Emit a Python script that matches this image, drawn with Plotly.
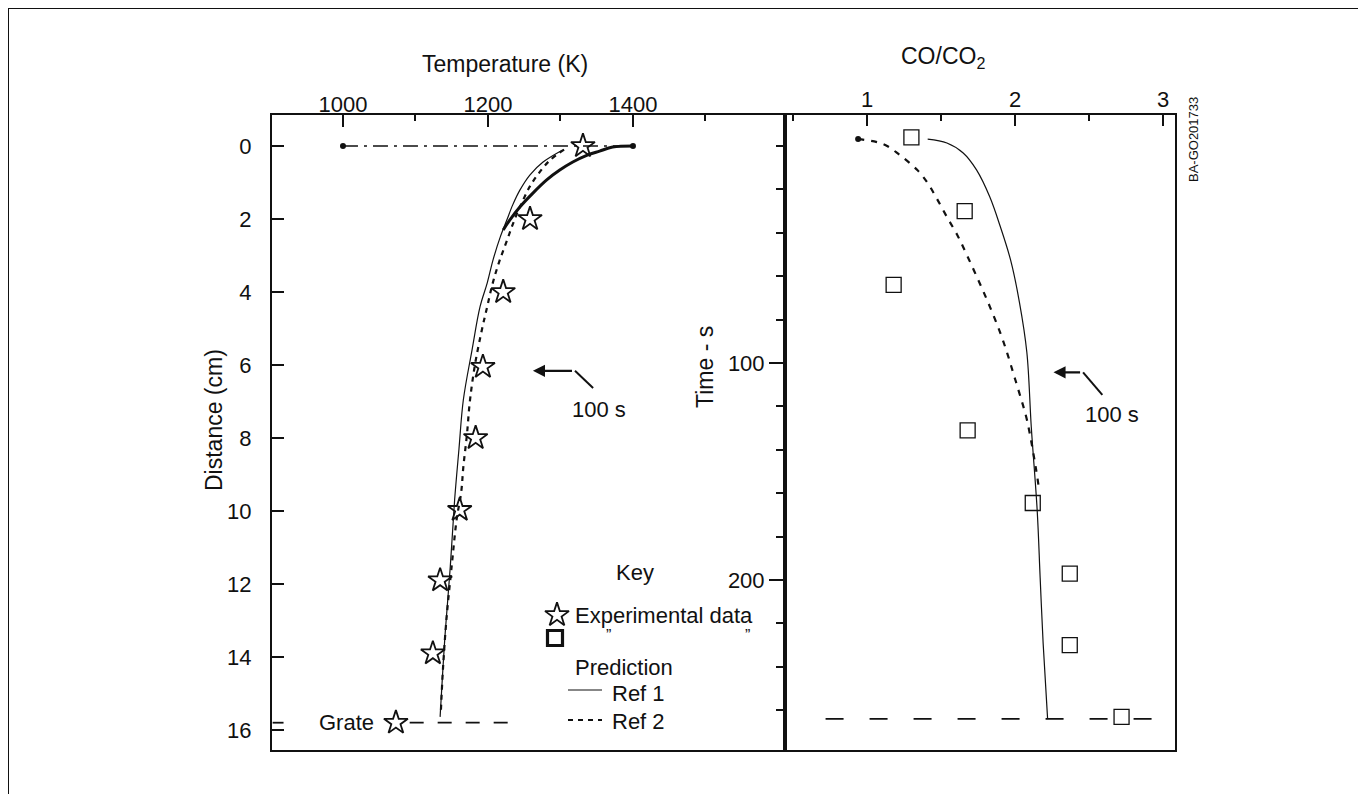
import plotly.graph_objects as go

# ---------------- data ----------------
# Left panel: temperature (K) vs distance (cm)
star_T = [1331, 1258, 1221, 1193, 1183, 1161, 1134, 1124, 1073]
star_d = [0.0, 2.0, 4.0, 6.05, 8.0, 9.97, 11.9, 13.9, 15.8]

ref1_T = [1303, 1276, 1258, 1244, 1234, 1226, 1217, 1207, 1199, 1189, 1178, 1166, 1160, 1154, 1148, 1141, 1134]
ref1_d = [0.11, 0.44, 0.79, 1.21, 1.62, 2.03, 2.49, 3.12, 3.75, 4.41, 5.59, 6.96, 8.3, 9.70, 11.53, 13.34, 15.64]

ref2_T = [1305, 1285, 1270, 1258, 1248, 1237, 1226, 1215, 1206, 1199, 1192, 1182, 1175, 1171, 1166, 1163, 1157, 1150, 1143, 1138, 1135]
ref2_d = [0.1, 0.4, 0.75, 1.1, 1.5, 2.0, 2.6, 3.2, 3.8, 4.4, 5.0, 6.0, 7.0, 7.9, 8.8, 9.5, 10.2, 11.5, 12.9, 14.3, 15.5]

thick_T = [1400, 1372, 1354, 1337, 1317, 1299, 1281, 1262, 1244, 1230, 1221]
thick_d = [0, 0.03, 0.14, 0.25, 0.44, 0.66, 0.93, 1.29, 1.67, 2.03, 2.30]

init_T = [1000, 1400]
init_d = [0, 0]

grate_d = 15.8
grate_T_left = [903, 918]
grate_T_right = [1092, 1240]

# Right panel: CO/CO2 vs time (s)
sq_r = [1.30, 1.66, 1.18, 1.68, 2.12, 2.37, 2.37, 2.72]
sq_t = [-4, 30, 64, 131, 164.5, 197, 230, 263]

r1_r = [1.41, 1.54, 1.65, 1.74, 1.83, 1.90, 1.97, 2.03, 2.08, 2.11, 2.15, 2.17, 2.19, 2.22]
r1_t = [-3.2, -1.4, 3.2, 11, 23.5, 37, 52.5, 72, 95, 129.5, 168, 199, 229, 263.6]

r2_r = [0.94, 1.11, 1.22, 1.34, 1.41, 1.47, 1.54, 1.61, 1.68, 1.76, 1.83, 1.90, 1.95, 1.99, 2.03, 2.08, 2.14, 2.16]
r2_t = [-3.2, -0.9, 4.1, 11.1, 17.1, 24, 32.7, 41, 51, 63, 74, 86, 96, 105, 114, 126, 148, 157]

grate_t = 264
grate_r = [0.72, 3.0]

temp_ticks = [1000, 1200, 1400]
temp_minor = [1100, 1300, 1500]
dist_ticks = [0, 2, 4, 6, 8, 10, 12, 14, 16]
ratio_ticks = [1, 2, 3]
ratio_minor = [0.5, 1.5, 2.5]
time_ticks = [100, 200]
time_minor = [0, 20, 40, 60, 80, 120, 140, 160, 180, 220, 240, 260]

# ---------------- layout helpers ----------------
W, H = 1366, 794
OFF = 8  # page body margin
def px(x):
    return (x - OFF) / W
def py(y):
    return 1 - (y - OFF) / H

FONT = "Liberation Sans, Arial, Helvetica, sans-serif"
BLACK = "#111111"

fig = go.Figure()

# left panel traces
fig.add_trace(go.Scatter(x=init_T, y=init_d, mode="lines+markers",
                         line=dict(color=BLACK, width=1.6, dash="longdashdot"),
                         marker=dict(size=6, color=BLACK), xaxis="x", yaxis="y"))
fig.add_trace(go.Scatter(x=thick_T, y=thick_d, mode="lines", line_shape="spline",
                         line=dict(color=BLACK, width=3), xaxis="x", yaxis="y"))
fig.add_trace(go.Scatter(x=ref1_T, y=ref1_d, mode="lines", line_shape="spline",
                         line=dict(color=BLACK, width=1.2), xaxis="x", yaxis="y"))
fig.add_trace(go.Scatter(x=ref2_T, y=ref2_d, mode="lines", line_shape="spline",
                         line=dict(color=BLACK, width=2.2, dash="5px,5px"), xaxis="x", yaxis="y"))
fig.add_trace(go.Scatter(x=grate_T_left, y=[grate_d] * 2, mode="lines",
                         line=dict(color=BLACK, width=1.8), xaxis="x", yaxis="y"))
fig.add_trace(go.Scatter(x=grate_T_right, y=[grate_d] * 2, mode="lines",
                         line=dict(color=BLACK, width=1.8, dash="14px,14px"), xaxis="x", yaxis="y"))
fig.add_trace(go.Scatter(x=star_T, y=star_d, mode="markers",
                         marker=dict(symbol="star-open", size=18, color=BLACK, line=dict(width=1.8, color=BLACK)),
                         xaxis="x", yaxis="y"))

# right panel traces
fig.add_trace(go.Scatter(x=r1_r, y=r1_t, mode="lines", line_shape="spline",
                         line=dict(color=BLACK, width=1.2), xaxis="x2", yaxis="y2"))
fig.add_trace(go.Scatter(x=r2_r, y=r2_t, mode="lines", line_shape="spline",
                         line=dict(color=BLACK, width=2.2, dash="6px,7px"), xaxis="x2", yaxis="y2"))
fig.add_trace(go.Scatter(x=r2_r[:1], y=r2_t[:1], mode="markers",
                         marker=dict(size=6, color=BLACK), xaxis="x2", yaxis="y2"))
fig.add_trace(go.Scatter(x=grate_r, y=[grate_t] * 2, mode="lines",
                         line=dict(color=BLACK, width=1.8, dash="18px,26px"), xaxis="x2", yaxis="y2"))
fig.add_trace(go.Scatter(x=sq_r, y=sq_t, mode="markers",
                         marker=dict(symbol="square-open", size=15, color=BLACK, line=dict(width=1.3, color=BLACK)),
                         xaxis="x2", yaxis="y2"))

# key symbols on a pixel overlay (reference pixel coordinates)
fig.add_trace(go.Scatter(x=[557], y=[615], mode="markers",
                         marker=dict(symbol="star-open", size=18, color=BLACK, line=dict(width=1.8, color=BLACK)),
                         xaxis="x3", yaxis="y3"))
fig.add_trace(go.Scatter(x=[555], y=[638], mode="markers",
                         marker=dict(symbol="square-open", size=15, color=BLACK, line=dict(width=3.2, color=BLACK)),
                         xaxis="x3", yaxis="y3"))
fig.add_trace(go.Scatter(x=[568, 602], y=[690, 690], mode="lines",
                         line=dict(color=BLACK, width=1.2), xaxis="x3", yaxis="y3"))
fig.add_trace(go.Scatter(x=[568, 602], y=[720, 720], mode="lines",
                         line=dict(color=BLACK, width=1.8, dash="5px,5px"), xaxis="x3", yaxis="y3"))

tickfont = dict(family=FONT, size=22, color=BLACK)
ydom = [py(750), py(115)]

fig.update_layout(
    width=W, height=H,
    margin=dict(l=0, r=0, t=0, b=0),
    paper_bgcolor="white", plot_bgcolor="rgba(0,0,0,0)",
    showlegend=False,
    font=dict(family=FONT, color=BLACK),
    xaxis=dict(domain=[px(272), px(785)], range=[902.1, 1609.7], side="top", anchor="y",
               tickmode="array", tickvals=temp_ticks, ticks="inside", ticklen=12, tickwidth=2,
               tickcolor=BLACK, tickfont=tickfont, ticklabelstandoff=-8,
               minor=dict(tickmode="array", tickvals=temp_minor, ticks="inside", ticklen=6,
                          tickwidth=2, tickcolor=BLACK),
               showline=True, linecolor=BLACK, linewidth=2, mirror=True,
               showgrid=False, zeroline=False),
    yaxis=dict(domain=ydom, range=[16.548, -0.849], anchor="x",
               tickmode="array", tickvals=dist_ticks, ticks="inside", ticklen=12, tickwidth=2,
               tickcolor=BLACK, tickfont=tickfont, ticklabelstandoff=14,
               showline=True, linecolor=BLACK, linewidth=2, mirror=True,
               showgrid=False, zeroline=False),
    xaxis2=dict(domain=[px(785), px(1175)], range=[0.4459, 3.0811], side="top", anchor="y2",
                tickmode="array", tickvals=ratio_ticks, ticks="inside", ticklen=11, tickwidth=2,
                tickcolor=BLACK, tickfont=tickfont, ticklabelstandoff=-3,
                minor=dict(tickmode="array", tickvals=ratio_minor, ticks="inside", ticklen=6,
                           tickwidth=2, tickcolor=BLACK),
                showline=True, linecolor=BLACK, linewidth=2, mirror=True,
                showgrid=False, zeroline=False),
    yaxis2=dict(domain=ydom, range=[278.3, -14.29], anchor="x2",
                tickmode="array", tickvals=time_ticks, ticks="outside", ticklen=14, tickwidth=2,
                tickcolor=BLACK, tickfont=tickfont, ticklabelstandoff=0,
                minor=dict(tickmode="array", tickvals=time_minor, ticks="outside", ticklen=7,
                           tickwidth=2, tickcolor=BLACK),
                showline=True, linecolor=BLACK, linewidth=2, mirror=True,
                showgrid=False, zeroline=False),
    xaxis3=dict(domain=[0, 1], range=[OFF, W + OFF], visible=False, anchor="y3", fixedrange=True),
    yaxis3=dict(domain=[0, 1], range=[H + OFF, OFF], visible=False, anchor="x3", fixedrange=True),
)

ann = []
def txt(x, y, s, size=22, angle=0, xanchor="center"):
    ann.append(dict(x=px(x), y=py(y), xref="paper", yref="paper", text=s, showarrow=False,
                    font=dict(family=FONT, size=size, color=BLACK), textangle=angle,
                    xanchor=xanchor, yanchor="middle"))

txt(505, 64, "Temperature (K)", 23)
txt(943, 58, "CO/CO<sub>2</sub>", 23)
txt(214, 420, "Distance (cm)", 23, angle=-90)
txt(705, 367, "Time - s", 23, angle=-90)
txt(1193, 140, "BA-GO201733", 13, angle=-90)
txt(635, 572, "Key", 22)
txt(573, 615, "Experimental data", 22, xanchor="left")
txt(608, 635, "\u201d", 16)
txt(747, 635, "\u201d", 16)
txt(573, 667, "Prediction", 22, xanchor="left")
txt(610, 693, "Ref 1", 22, xanchor="left")
txt(610, 721, "Ref 2", 22, xanchor="left")
txt(376, 722, "Grate", 22, xanchor="right")
txt(599, 409, "100 s", 22)
txt(1112, 415, "100 s", 22)

# "100 s" arrows (left panel in T/d, right panel in ratio/time)
ann.append(dict(x=1262, y=6.16, ax=1320, ay=6.16, xref="x", yref="y", axref="x", ayref="y",
                showarrow=True, arrowhead=2, arrowsize=1.1, arrowwidth=2.2, arrowcolor=BLACK, text=" "))
ann.append(dict(x=2.26, y=104.3, ax=2.46, ay=104.3, xref="x2", yref="y2", axref="x2", ayref="y2",
                showarrow=True, arrowhead=2, arrowsize=1.1, arrowwidth=2.2, arrowcolor=BLACK, text=" "))
fig.update_layout(annotations=ann)

shapes = [
    dict(type="line", xref="x", yref="y", x0=1320, y0=6.16, x1=1345, y1=6.63,
         line=dict(color=BLACK, width=2)),
    dict(type="line", xref="x2", yref="y2", x0=2.46, y0=104.3, x1=2.59, y1=114.7,
         line=dict(color=BLACK, width=2)),
    # outer frame (top and left edges of the scanned page)
    dict(type="line", xref="paper", yref="paper", x0=0, y0=1, x1=1, y1=1,
         line=dict(color=BLACK, width=2)),
    dict(type="line", xref="paper", yref="paper", x0=0, y0=1, x1=0, y1=0,
         line=dict(color=BLACK, width=2)),
]
fig.update_layout(shapes=shapes)

fig.write_html("out.html")
